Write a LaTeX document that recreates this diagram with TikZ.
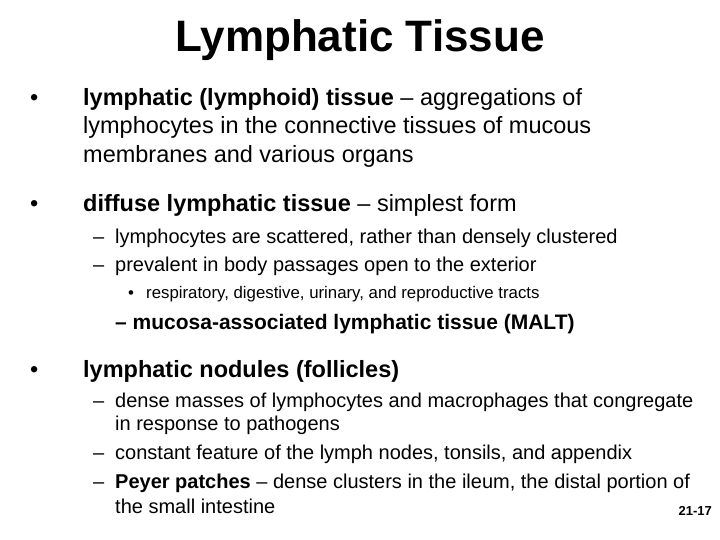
\documentclass[tikz,border=0pt]{standalone}
\usepackage{fontspec}
\setmainfont{Liberation Sans}
\begin{document}
\begin{tikzpicture}[x=1pt,y=-1pt,
  t/.style={anchor=mid west,inner sep=0pt,font=\fontsize{23.5}{26}\selectfont},
  s/.style={anchor=mid west,inner sep=0pt,font=\fontsize{20}{22}\selectfont},
  ss/.style={anchor=mid west,inner sep=0pt,font=\fontsize{16.8}{18}\selectfont}]
\useasboundingbox (0,0) rectangle (720,540);
\node[inner sep=0pt,font=\bfseries\fontsize{44}{46}\selectfont] (title) at (360,40) {Lymphatic Tissue};
\node[t] (b1) at (30,103) {•};
\node[t] (l1) at (83,103) {\textbf{lymphatic (lymphoid) tissue} – aggregations of};
\node[t] (l2) at (83,131) {lymphocytes in the connective tissues of mucous};
\node[t] (l3) at (83,160) {membranes and various organs};
\node[t] (b2) at (30,209) {•};
\node[t] (l4) at (83,209) {\textbf{diffuse lymphatic tissue} – simplest form};
\node[s] (d1) at (93,241) {–};
\node[s] (l5) at (115,241) {lymphocytes are scattered, rather than densely clustered};
\node[s] (d2) at (93,269) {–};
\node[s] (l6) at (115,269) {prevalent in body passages open to the exterior};
\node[ss] (b3) at (128,296) {•};
\node[ss] (l7) at (146,296) {respiratory, digestive, urinary, and reproductive tracts};
\node[s,font=\bfseries\fontsize{21}{23}\selectfont] (l8) at (115,327) {– mucosa-associated lymphatic tissue (MALT)};
\node[t] (b4) at (30,375) {•};
\node[t] (l9) at (83,375) {\textbf{lymphatic nodules (follicles)}};
\node[s] (d3) at (93,405) {–};
\node[s] (l10) at (115,405) {dense masses of lymphocytes and macrophages that congregate};
\node[s] (l11) at (115,428) {in response to pathogens};
\node[s] (d4) at (93,457) {–};
\node[s] (l12) at (115,457) {constant feature of the lymph nodes, tonsils, and appendix};
\node[s] (d5) at (93,486) {–};
\node[s] (l13) at (115,486) {\textbf{Peyer patches} – dense clusters in the ileum, the distal portion of};
\node[s] (l14) at (115,511) {the small intestine};
\node[anchor=east,inner sep=0pt,font=\bfseries\fontsize{13}{14}\selectfont] (pg) at (712,511) {21-17};
\end{tikzpicture}
\end{document}
